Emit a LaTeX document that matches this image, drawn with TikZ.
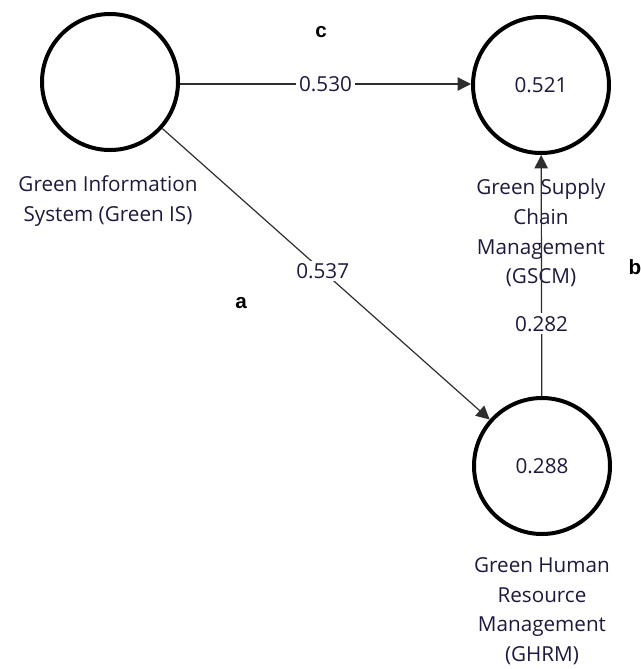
\documentclass[tikz,border=0pt]{standalone}
\usepackage{fontspec}
\setmainfont{Open Sans}
\newfontfamily\letterfont{Liberation Sans}
\usetikzlibrary{arrows.meta}
\definecolor{txt}{rgb}{0.13,0.10,0.24}
\definecolor{edge}{rgb}{0.18,0.18,0.18}
\begin{document}
\begin{tikzpicture}[x=0.75pt,y=-0.75pt,
  construct/.style={circle,draw=black,line width=3pt,minimum size=136*0.75pt,inner sep=0pt,
    font=\fontsize{15.5}{18}\selectfont,text=txt},
  caption/.style={align=center,font=\fontsize{15.5}{22.2}\selectfont,text=txt},
  path/.style={draw=edge,line width=0.9pt,-{Triangle[length=10pt,width=10pt]}},
  coef/.style={fill=white,inner sep=2pt,font=\fontsize{15.5}{18}\selectfont,text=txt},
  tag/.style={font=\letterfont\bfseries\fontsize{15.5}{17}\selectfont,text=black}]
\useasboundingbox[fill=white] (0,0) rectangle (641,669);
% constructs
\node[construct] (gis) at (110,82) {};
\node[construct] (gscm) at (541,85) {0.521};
\node[construct] (ghrm) at (542,466) {0.288};
% captions
\node[caption] (gisl) at (108,201) {Green Information\\System (Green IS)};
\node[caption] (gscml) at (541,233) {Green Supply\\Chain\\Management\\(GSCM)};
\node[caption] (ghrml) at (542,611) {Green Human\\Resource\\Management\\(GHRM)};
% structural paths
\draw[path] (gis.east |- 0,84) -- node[coef,pos=0.5] {0.530} (gscm.west |- 0,84);
\draw[path] (gis) -- node[coef,pos=0.49] {0.537} (ghrm);
\draw[path] (ghrm) -- node[coef,pos=0.3] {0.282} (gscm);
% hypothesis tags
\node[tag] (tc) at (321,32) {c};
\node[tag] (ta) at (241,303) {a};
\node[tag] (tb) at (635,267) {b};
\end{tikzpicture}
\end{document}
